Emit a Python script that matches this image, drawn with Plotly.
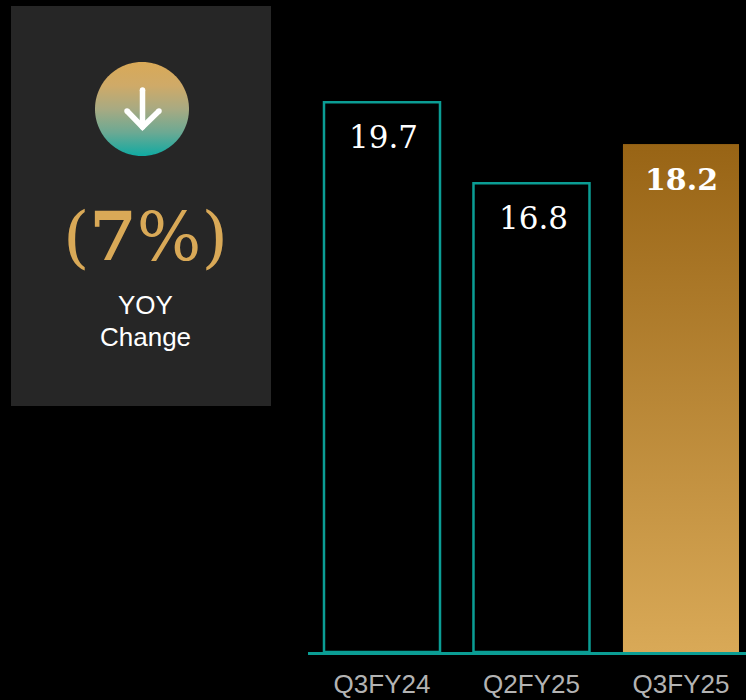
import numpy as np
import plotly.graph_objects as go

categories = ["Q3FY24", "Q2FY25", "Q3FY25"]
values = [19.7, 16.8, 18.2]
value_labels = ["19.7", "16.8", "18.2"]
change_label = "(<b>7</b>%)"
change_caption = ["YOY", "Change"]

W, H = 746, 700
TEAL = "#0b9d94"
GOLD = "#d9a957"
BROWN = "#986415"
SERIF = "DejaVu Serif"
SANS = "Liberation Sans, Arial, sans-serif"
BAR_W = 0.776
idx = list(range(len(categories)))

fig = go.Figure()

# outlined bars
fig.add_bar(
    x=idx[:2], y=values[:2], width=BAR_W,
    marker=dict(color="#000000", line=dict(color=TEAL, width=2.5)),
    showlegend=False, hoverinfo="skip",
)
# highlighted bar with a vertical gradient
xc, v = idx[2], values[2]
fig.add_bar(x=[xc], y=[v], width=BAR_W, marker=dict(color=BROWN, line=dict(width=0)),
            showlegend=False, hoverinfo="skip")
fig.add_scatter(
    x=[xc - BAR_W / 2, xc - BAR_W / 2, xc + BAR_W / 2, xc + BAR_W / 2, xc - BAR_W / 2],
    y=[0, v, v, 0, 0],
    mode="none", fill="toself",
    fillgradient=dict(type="vertical", colorscale=[[0, GOLD], [1, BROWN]]),
    showlegend=False, hoverinfo="skip",
)

# icon drawn on a full-figure pixel axis pair
t = np.linspace(0, 2 * np.pi, 181)
cx, cy, r = 142, 109, 47
fig.add_scatter(
    x=cx + r * np.cos(t), y=cy + r * np.sin(t),
    xaxis="x2", yaxis="y2", mode="none", fill="toself",
    fillgradient=dict(type="vertical",
                      colorscale=[[0, "#10aaa2"], [0.25, "#6ca993"], [0.5, "#a8aa82"],
                                  [0.75, "#cfaa68"], [1, GOLD]]),
    showlegend=False, hoverinfo="skip",
)
arrow_x = [cx + 0.5, cx + 0.5, None, cx - 15, cx + 0.5, cx + 17]
arrow_y = [90, 126, None, 111, 127, 111]
fig.add_scatter(
    x=arrow_x, y=arrow_y, xaxis="x2", yaxis="y2", mode="lines+markers",
    line=dict(color="#ffffff", width=5.5),
    marker=dict(color="#ffffff", size=5.5),
    showlegend=False, hoverinfo="skip",
)

annotations = []
label_sizes = [31, 31, 30]
label_offsets = [0.01, 0.013, 0.006]
for i, (lab, val) in enumerate(zip(value_labels, values)):
    bold = i == 2
    annotations.append(dict(
        x=i + label_offsets[i], y=val, xref="x", yref="y", text=f"<b>{lab}</b>" if bold else lab,
        showarrow=False, yanchor="middle", yshift=-35,
        font=dict(family=SERIF, size=label_sizes[i], color="#ffffff"),
    ))
annotations.append(dict(
    x=145.5, y=236, xref="x2", yref="y2", text=change_label, showarrow=False,
    font=dict(family=SERIF, size=68, color=GOLD),
))
for txt, y in zip(change_caption, [305, 337]):
    annotations.append(dict(
        x=145, y=y, xref="x2", yref="y2", text=txt, showarrow=False,
        font=dict(family=SANS, size=26, color="#ffffff"),
    ))

fig.update_layout(
    width=W, height=H, autosize=False,
    margin=dict(l=0, r=0, t=0, b=0),
    paper_bgcolor="#000000", plot_bgcolor="rgba(0,0,0,0)",
    barmode="overlay", showlegend=False,
    xaxis=dict(
        domain=[308 / W, 1], range=[-0.495, 2.435],
        tickmode="array", tickvals=idx, ticktext=categories,
        showgrid=False, zeroline=False, ticks="", fixedrange=True,
        showline=True, linecolor=TEAL, linewidth=3,
        tickfont=dict(family=SANS, size=26, color="#b3b3b3"),
        ticklabelstandoff=7,
    ),
    yaxis=dict(
        domain=[48 / H, 1], range=[0, 652 / 27.9],
        visible=False, fixedrange=True,
    ),
    xaxis2=dict(domain=[0, 1], range=[0, W], visible=False, anchor="y2", fixedrange=True),
    yaxis2=dict(domain=[0, 1], range=[H, 0], visible=False, anchor="x2", fixedrange=True),
    shapes=[dict(type="rect", xref="x2", yref="y2", x0=11, x1=271, y0=6, y1=406,
                 fillcolor="#262626", line=dict(width=0), layer="below")],
    annotations=annotations,
)

fig.write_html("out.html", config={"displayModeBar": False},
               post_script="document.body.style.margin='0';")
